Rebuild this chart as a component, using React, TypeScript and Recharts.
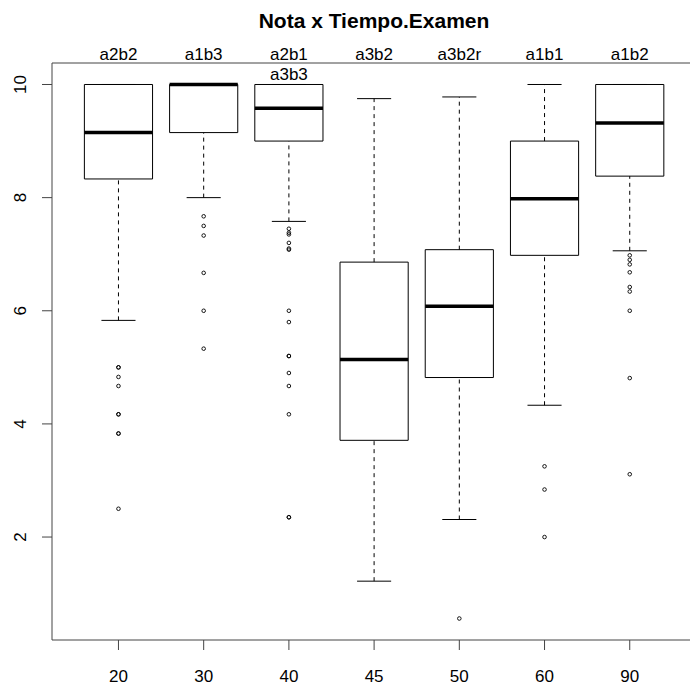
import { ComposedChart, XAxis, YAxis, Scatter, ReferenceArea, ReferenceLine } from 'recharts'

// Tiempo.Examen groups (bottom axis) and their version labels (top)
const xLabels = ['20', '30', '40', '45', '50', '60', '90']
const groupNames = ['a2b2', 'a1b3', 'a2b1', 'a3b2', 'a3b2r', 'a1b1', 'a1b2']
const groupNotes = ['', '', 'a3b3', '', '', '', '']

// box stats for Nota
const whiskerLow = [5.83, 8.0, 7.58, 1.22, 2.31, 4.33, 7.06]
const q1 = [8.33, 9.15, 9.0, 3.71, 4.82, 6.98, 8.38]
const median = [9.15, 10, 9.58, 5.14, 6.08, 7.98, 9.32]
const q3 = [10, 10, 10, 6.86, 7.08, 9.0, 10]
const whiskerHigh = [10, 10, 10, 9.75, 9.78, 10, 10]

const out20 = [5.0, 5.0, 4.83, 4.67, 4.17, 4.17, 3.83, 3.83, 2.5]
const out30 = [7.67, 7.5, 7.33, 6.67, 6.0, 5.33]
const out40 = [7.45, 7.38, 7.35, 7.2, 7.1, 7.08, 6.0, 5.8, 5.2, 5.2, 4.9, 4.67, 4.17, 2.35, 2.35]
const out45: number[] = []
const out50 = [0.56]
const out60 = [3.25, 2.84, 2.0]
const out90 = [6.98, 6.9, 6.82, 6.68, 6.42, 6.34, 6.0, 4.81, 3.11]

const yTicks = [2, 4, 6, 8, 10]

const FONT = '"Liberation Sans", Arial, Helvetica, sans-serif'
const AXIS = '#444'
// the right part of the plot frame falls outside the exported image
const X_DOMAIN = [0.22, 8.2]

const positions = xLabels.map((_, i) => i + 1)
const outlierPoints = [out20, out30, out40, out45, out50, out60, out90].flatMap((vals, i) =>
  vals.map((v) => ({ x: i + 1, y: v }))
)

function BottomTick({ x, y, payload }: any) {
  return (
    <text x={x} y={y + 30} textAnchor="middle" fontFamily={FONT} fontSize={17} fill="#000">
      {xLabels[payload.value - 1]}
    </text>
  )
}

function TopTick({ x, y, payload }: any) {
  const i = payload.value - 1
  return (
    <g>
      <text x={x} y={y - 3} textAnchor="middle" fontFamily={FONT} fontSize={17} fill="#000">
        {groupNames[i]}
      </text>
      {groupNotes[i] && (
        <text x={x} y={y + 17} textAnchor="middle" fontFamily={FONT} fontSize={17} fill="#000">
          {groupNotes[i]}
        </text>
      )}
    </g>
  )
}

function LeftTick({ x, y, payload }: any) {
  const cx = x - 20
  return (
    <text
      x={cx}
      y={y}
      dy="0.36em"
      textAnchor="middle"
      transform={`rotate(-90, ${cx}, ${y})`}
      fontFamily={FONT}
      fontSize={17}
      fill="#000"
    >
      {payload.value}
    </text>
  )
}

const dot = (props: any) => (
  <circle cx={props.cx} cy={props.cy} r={1.8} fill="none" stroke="#000" strokeWidth={0.9} />
)

export default function App() {
  return (
    <div style={{ position: 'fixed', left: 0, top: 0, width: 690, height: 689, overflow: 'hidden', background: '#fff' }}>
      <div
        style={{
          position: 'absolute',
          top: 10,
          left: 0,
          width: 748,
          textAlign: 'center',
          fontFamily: FONT,
          fontWeight: 'bold',
          fontSize: 21,
          lineHeight: 1,
        }}
      >
        Nota x Tiempo.Examen
      </div>
      <ComposedChart width={740} height={689} margin={{ top: 0, right: 8, bottom: 0, left: 0 }}>
        <XAxis
          xAxisId="b"
          type="number"
          dataKey="x"
          domain={X_DOMAIN}
          ticks={positions}
          interval={0}
          allowDataOverflow
          height={49}
          tickSize={10}
          stroke={AXIS}
          tick={<BottomTick />}
        />
        <XAxis
          xAxisId="t"
          orientation="top"
          type="number"
          dataKey="x"
          domain={X_DOMAIN}
          ticks={positions}
          interval={0}
          allowDataOverflow
          height={63}
          tickLine={false}
          tickSize={0}
          tickMargin={0}
          stroke={AXIS}
          tick={<TopTick />}
        />
        <YAxis
          yAxisId="y"
          type="number"
          domain={[0.18, 10.38]}
          ticks={yTicks}
          interval={0}
          allowDataOverflow
          width={52}
          tickSize={10}
          stroke={AXIS}
          tick={<LeftTick />}
        />
        {positions.map((p, i) => (
          <ReferenceLine
            key={`wh-${i}`}
            xAxisId="b"
            yAxisId="y"
            segment={[{ x: p, y: q3[i] }, { x: p, y: whiskerHigh[i] }]}
            stroke="#000"
            strokeDasharray="4 4"
          />
        ))}
        {positions.map((p, i) => (
          <ReferenceLine
            key={`wl-${i}`}
            xAxisId="b"
            yAxisId="y"
            segment={[{ x: p, y: whiskerLow[i] }, { x: p, y: q1[i] }]}
            stroke="#000"
            strokeDasharray="4 4"
          />
        ))}
        {positions.map((p, i) => (
          <ReferenceLine
            key={`ch-${i}`}
            xAxisId="b"
            yAxisId="y"
            segment={[{ x: p - 0.2, y: whiskerHigh[i] }, { x: p + 0.2, y: whiskerHigh[i] }]}
            stroke="#000"
          />
        ))}
        {positions.map((p, i) => (
          <ReferenceLine
            key={`cl-${i}`}
            xAxisId="b"
            yAxisId="y"
            segment={[{ x: p - 0.2, y: whiskerLow[i] }, { x: p + 0.2, y: whiskerLow[i] }]}
            stroke="#000"
          />
        ))}
        {positions.map((p, i) => (
          <ReferenceArea
            key={`box-${i}`}
            xAxisId="t"
            yAxisId="y"
            x1={p - 0.4}
            x2={p + 0.4}
            y1={q1[i]}
            y2={q3[i]}
            fill="#fff"
            fillOpacity={1}
            stroke="#000"
            strokeWidth={1}
          />
        ))}
        {positions.map((p, i) => (
          <ReferenceLine
            key={`md-${i}`}
            xAxisId="b"
            yAxisId="y"
            segment={[{ x: p - 0.4, y: median[i] }, { x: p + 0.4, y: median[i] }]}
            stroke="#000"
            strokeWidth={3.5}
          />
        ))}
        <Scatter
          xAxisId="b"
          yAxisId="y"
          data={outlierPoints}
          dataKey="y"
          shape={dot}
          isAnimationActive={false}
        />
      </ComposedChart>
    </div>
  )
}
